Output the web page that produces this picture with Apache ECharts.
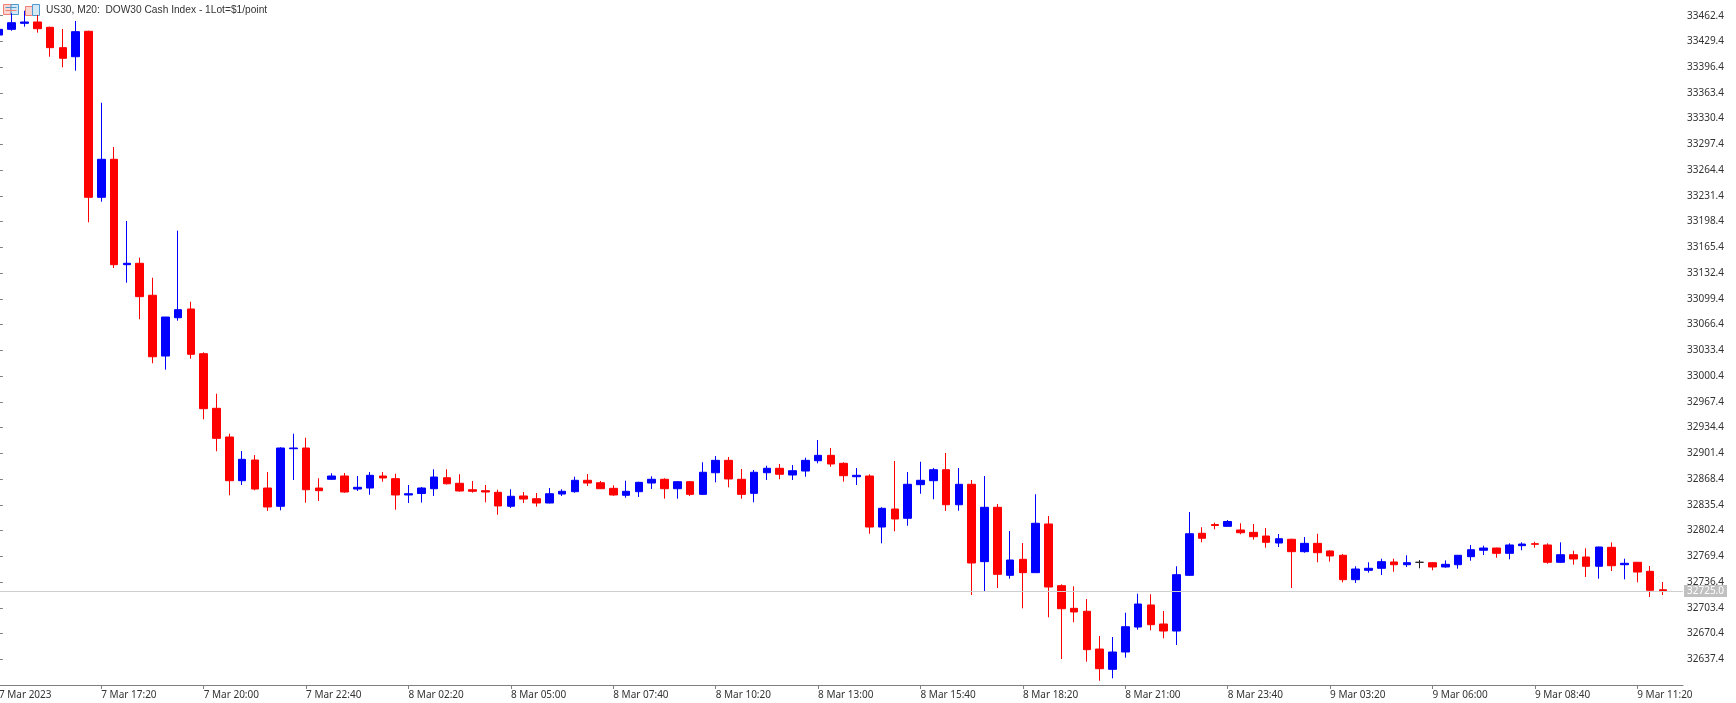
<!DOCTYPE html>
<html><head><meta charset="utf-8">
<style>html,body{margin:0;padding:0;background:#fff}#c{width:1736px;height:703px}</style>
<script src="https://cdn.jsdelivr.net/npm/echarts@6/dist/echarts.min.js"></script>
</head><body><div id="c"></div>
<script>
const titleText = "US30, M20:  DOW30 Cash Index - 1Lot=$1/point";
const opens = [33437.6,33444.9,33452.6,33454.3,33447.5,33421.4,33409.8,33442.4,33229.6,33278.3,
33143.2,33145,33104,33026.1,33075.2,33086.4,33029.1,32959.1,32922.3,32866.3,
32892.8,32856.9,32833.5,32907.3,32908.2,32856.9,32868.1,32872.3,32855.6,32856.9,
32872.3,32868.9,32848,32849.9,32856,32870.1,32863,32854.7,32853.5,32851.4,
32833.5,32846.7,32843.2,32837.7,32849.2,32852.2,32866.8,32863.7,32856.5,32847.6,
32852.2,32863.3,32868.1,32856,32865,32848.8,32876.5,32892.4,32868.1,32850.1,
32876.5,32882.2,32873.6,32878.7,32891.9,32898.8,32888.6,32871.4,32872.3,32806.9,
32830,32818.1,32861.2,32866.3,32880.4,32835.5,32861.7,32762.5,32832.2,32745,
32765.5,32748.4,32810.8,32731.7,32702.7,32698.9,32650.5,32624.5,32646.7,32678.7,
32707,32682.6,32673.6,32745,32798.9,32810.1,32807.8,32803.1,32800.1,32795.4,
32786.4,32791.2,32775.3,32786,32776.2,32770.7,32739.4,32751.4,32754,32762.1,
32758.6,32761.7,32761.2,32755.7,32758.6,32768.9,32777.1,32780,32773.2,32783,
32785.5,32783.9,32761.7,32771.4,32768.5,32756.6,32780.9,32758.6,32761.7,32750.1,32726.5];
const closes = [33444.9,33453.4,33454.3,33445.7,33421.4,33407.8,33441.9,33229.6,33278.3,33143.2,
33145,33102.2,33025.2,33076.1,33085.5,33028.3,32958.6,32920.6,32866.3,32893.7,
32855.6,32832.6,32908.2,32908.2,32854.7,32853.5,32872.3,32851.8,32857.8,32873.2,
32869.8,32848,32849.6,32856.9,32871,32862.4,32853.1,32852.7,32851.8,32833.9,
32846.3,32842.8,32837.7,32849.6,32852.7,32866.8,32863.3,32856,32848,32852.7,
32864.2,32868.1,32856,32865,32848.8,32877.1,32892.4,32868.5,32848.8,32877.1,
32882.2,32874.5,32879.1,32892.4,32898.8,32887.7,32872.7,32873.2,32806.9,32830.9,
32817.2,32861.7,32866.8,32880.4,32835.5,32861.7,32760.8,32832.2,32746.3,32764.6,
32748.4,32811.7,32730,32702.2,32698,32649.7,32625.3,32646.7,32679.1,32708.2,
32681.7,32673.6,32745.8,32798.3,32792.5,32808.9,32814,32799.6,32794.5,32787.3,
32791.9,32775.3,32786,32774,32769.8,32739.4,32753.1,32754,32762.5,32758.6,
32761.2,32761.7,32755.7,32759.1,32770.7,32777.8,32780,32773.2,32783.9,32785.1,
32784.8,32761.7,32771.4,32765.9,32756.6,32781.3,32757.3,32760.4,32749.2,32725.8,32725];
const lows = [33437.6,33443.1,33448.3,33440.6,33409.8,33396.2,33391.9,33197.5,33223.9,33138.9,
33120.1,33073.2,33016.8,33008.6,33071.4,33022.7,32945,32904,32847.6,32860.8,
32854,32827.5,32828.3,32867.2,32838.1,32840.3,32867.2,32850.9,32853.1,32848.3,
32865,32829.1,32837.7,32838.3,32846.7,32861.4,32852.2,32850.9,32838.6,32822.7,
32831.3,32837.7,32833,32837.3,32846.7,32850.9,32859.5,32855.6,32847,32844.5,
32845.4,32855.6,32843.2,32843.2,32846.7,32848,32864.2,32857.8,32843.2,32838.6,
32867.2,32868.1,32867.2,32871.4,32888.6,32884.2,32865,32860.8,32798.3,32786,
32801.4,32808.6,32849.6,32842.5,32827.5,32827.8,32719.8,32724.5,32728.7,32740.7,
32702.7,32748,32691.2,32637.7,32684.8,32634.3,32609.9,32613,32639.4,32675.3,
32674.5,32664.3,32655.7,32744.5,32787.3,32804,32807.6,32797.6,32790.7,32780.4,
32781.3,32728.7,32774,32761.7,32762.5,32736,32735.2,32748.4,32745.4,32749.6,
32755.7,32754,32751.4,32754.8,32753.5,32763.7,32771,32767.6,32765.5,32777.1,
32780.4,32759.9,32760.8,32758.6,32742.8,32740.7,32750.5,32739.9,32736,32717.2,32719.8];
const highs = [33447.9,33465.5,33468.8,33463.3,33448.3,33445.3,33455.6,33443.1,33350.8,33294.1,
33199.2,33152.2,33126.5,33076.1,33186.8,33095.7,33030.9,32977.8,32926.5,32904.4,
32899.2,32877.4,32909.1,32926.5,32921.4,32869.4,32875.8,32876.2,32872.3,32877.4,
32877.4,32875.3,32860.8,32858.2,32880.9,32880.9,32874.5,32865.9,32860.8,32854.7,
32855.3,32851.8,32850.5,32856.9,32855.3,32871.4,32874.9,32865.9,32860.4,32866.3,
32865,32871.9,32869.4,32865.9,32865.9,32889.9,32897.9,32896.7,32881.3,32880,
32885.5,32887.7,32886.4,32895.8,32918.5,32908.2,32889.9,32882.6,32874.5,32832.2,
32891.5,32877.4,32890.6,32882.6,32901.8,32882.6,32867.2,32872.3,32836.4,32801.8,
32786.4,32848.9,32821,32733.5,32730.9,32714.6,32667.2,32665.9,32697.1,32721.4,
32720.7,32699.3,32756.6,32826.2,32806.6,32812.5,32815.9,32811.7,32810.8,32805.7,
32798,32791.9,32794.1,32798.3,32777.1,32772.3,32756.6,32761.7,32766.3,32766.3,
32770.7,32764.6,32762.1,32764.2,32771,32783.9,32783,32780.4,32786,32787.3,
32788.1,32786,32787.3,32776.5,32779.6,32781.7,32787.3,32766.3,32762.1,32756.9,32736.4];
const timeTicks = [0,8,16,24,32,40,48,56,64,72,80,88,96,104,112,120,128];
const timeLabels = ["7 Mar 2023","7 Mar 17:20","7 Mar 20:00","7 Mar 22:40","8 Mar 02:20","8 Mar 05:00","8 Mar 07:40","8 Mar 10:20","8 Mar 13:00","8 Mar 15:40","8 Mar 18:20","8 Mar 21:00","8 Mar 23:40","9 Mar 03:20","9 Mar 06:00","9 Mar 08:40","9 Mar 11:20"];
const priceTicks = [33462.4,33429.4,33396.4,33363.4,33330.4,33297.4,33264.4,33231.4,33198.4,33165.4,33132.4,33099.4,33066.4,33033.4,33000.4,32967.4,32934.4,32901.4,32868.4,32835.4,32802.4,32769.4,32736.4,32703.4,32670.4,32637.4];
const lastPrice = 32725.0;

const FONT = "Noto Sans";
const axisColor = "#7f7f7f", textColor = "#333";
const chart = echarts.init(document.getElementById('c'), null, {renderer:'canvas'});
chart.setOption({
  animation:false,
  backgroundColor:'#fff',
  grid:{left:-1.1, right:53, top:0, bottom:18, containLabel:false, outerBoundsMode:'none'},
  xAxis:{
    type:'value', min:0, max:131.57, containShape:false, splitLine:{show:false},
    axisLine:{show:true, onZero:false, lineStyle:{color:axisColor,width:1}},
    axisTick:{show:true, length:4, customValues:timeTicks, lineStyle:{color:axisColor}},
    axisLabel:{show:true, customValues:timeTicks, align:'left', margin:5, fontFamily:FONT, fontSize:10, color:textColor,
      formatter:v=>timeLabels[timeTicks.indexOf(v)]}
  },
  yAxis:{
    type:'value', position:'right', min:32604.4, max:33482.5, scale:true, splitLine:{show:false},
    axisLine:{show:true, lineStyle:{color:axisColor,width:1}},
    axisTick:{show:true, length:4, customValues:priceTicks, lineStyle:{color:axisColor}},
    axisLabel:{show:true, customValues:priceTicks, margin:4, padding:[2,0,0,0], fontFamily:FONT, fontSize:10, color:textColor,
      formatter:v=>v.toFixed(1)}
  },
  graphic:[
    {type:'group', left:3, top:4, silent:true, children:[
      {type:'rect', shape:{x:0,y:0,width:7.5,height:10}, style:{fill:'#fbd5d0',stroke:'#ef7f72',lineWidth:1}},
      {type:'rect', shape:{x:7.5,y:0,width:7.5,height:10}, style:{fill:'#d5e8f6',stroke:'#4f9bd0',lineWidth:1}},
      {type:'line', shape:{x1:2,y1:3,x2:13,y2:3}, style:{stroke:'#4f9bd0',lineWidth:1}},
      {type:'line', shape:{x1:2,y1:6,x2:13,y2:6}, style:{stroke:'#ef7f72',lineWidth:1}},
      {type:'rect', shape:{x:22,y:2,width:7,height:9}, style:{fill:'#fbd5d0',stroke:'#ef7f72',lineWidth:1}},
      {type:'rect', shape:{x:29,y:0,width:7,height:11}, style:{fill:'#d5e8f6',stroke:'#4f9bd0',lineWidth:1}}
    ]},
    {type:'text', left:46, top:5, silent:true, style:{text:titleText, fontFamily:"Liberation Sans", fontSize:10.2, fill:textColor}}
  ],
  series:[{
    type:'candlestick', layout:'horizontal', barWidth:8, clip:true,
    data:opens.map((o,i)=>[i,o,closes[i],lows[i],highs[i]]),
    itemStyle:{color:'#0000ff',color0:'#ff0000',borderColor:'#0000ff',borderColor0:'#ff0000',borderColorDoji:'#222',borderWidth:1},
    markLine:{silent:true, symbol:'none', animation:false,
      lineStyle:{color:'#cfcfcf',width:1,type:'solid'},
      data:[{yAxis:lastPrice}],
      label:{show:true, position:'end', distance:1, formatter:()=>lastPrice.toFixed(1), color:'#fff', backgroundColor:'#c0c0c0', padding:[1,3,1,3], fontFamily:FONT, fontSize:10}
    }
  }]
});
</script></body></html>
